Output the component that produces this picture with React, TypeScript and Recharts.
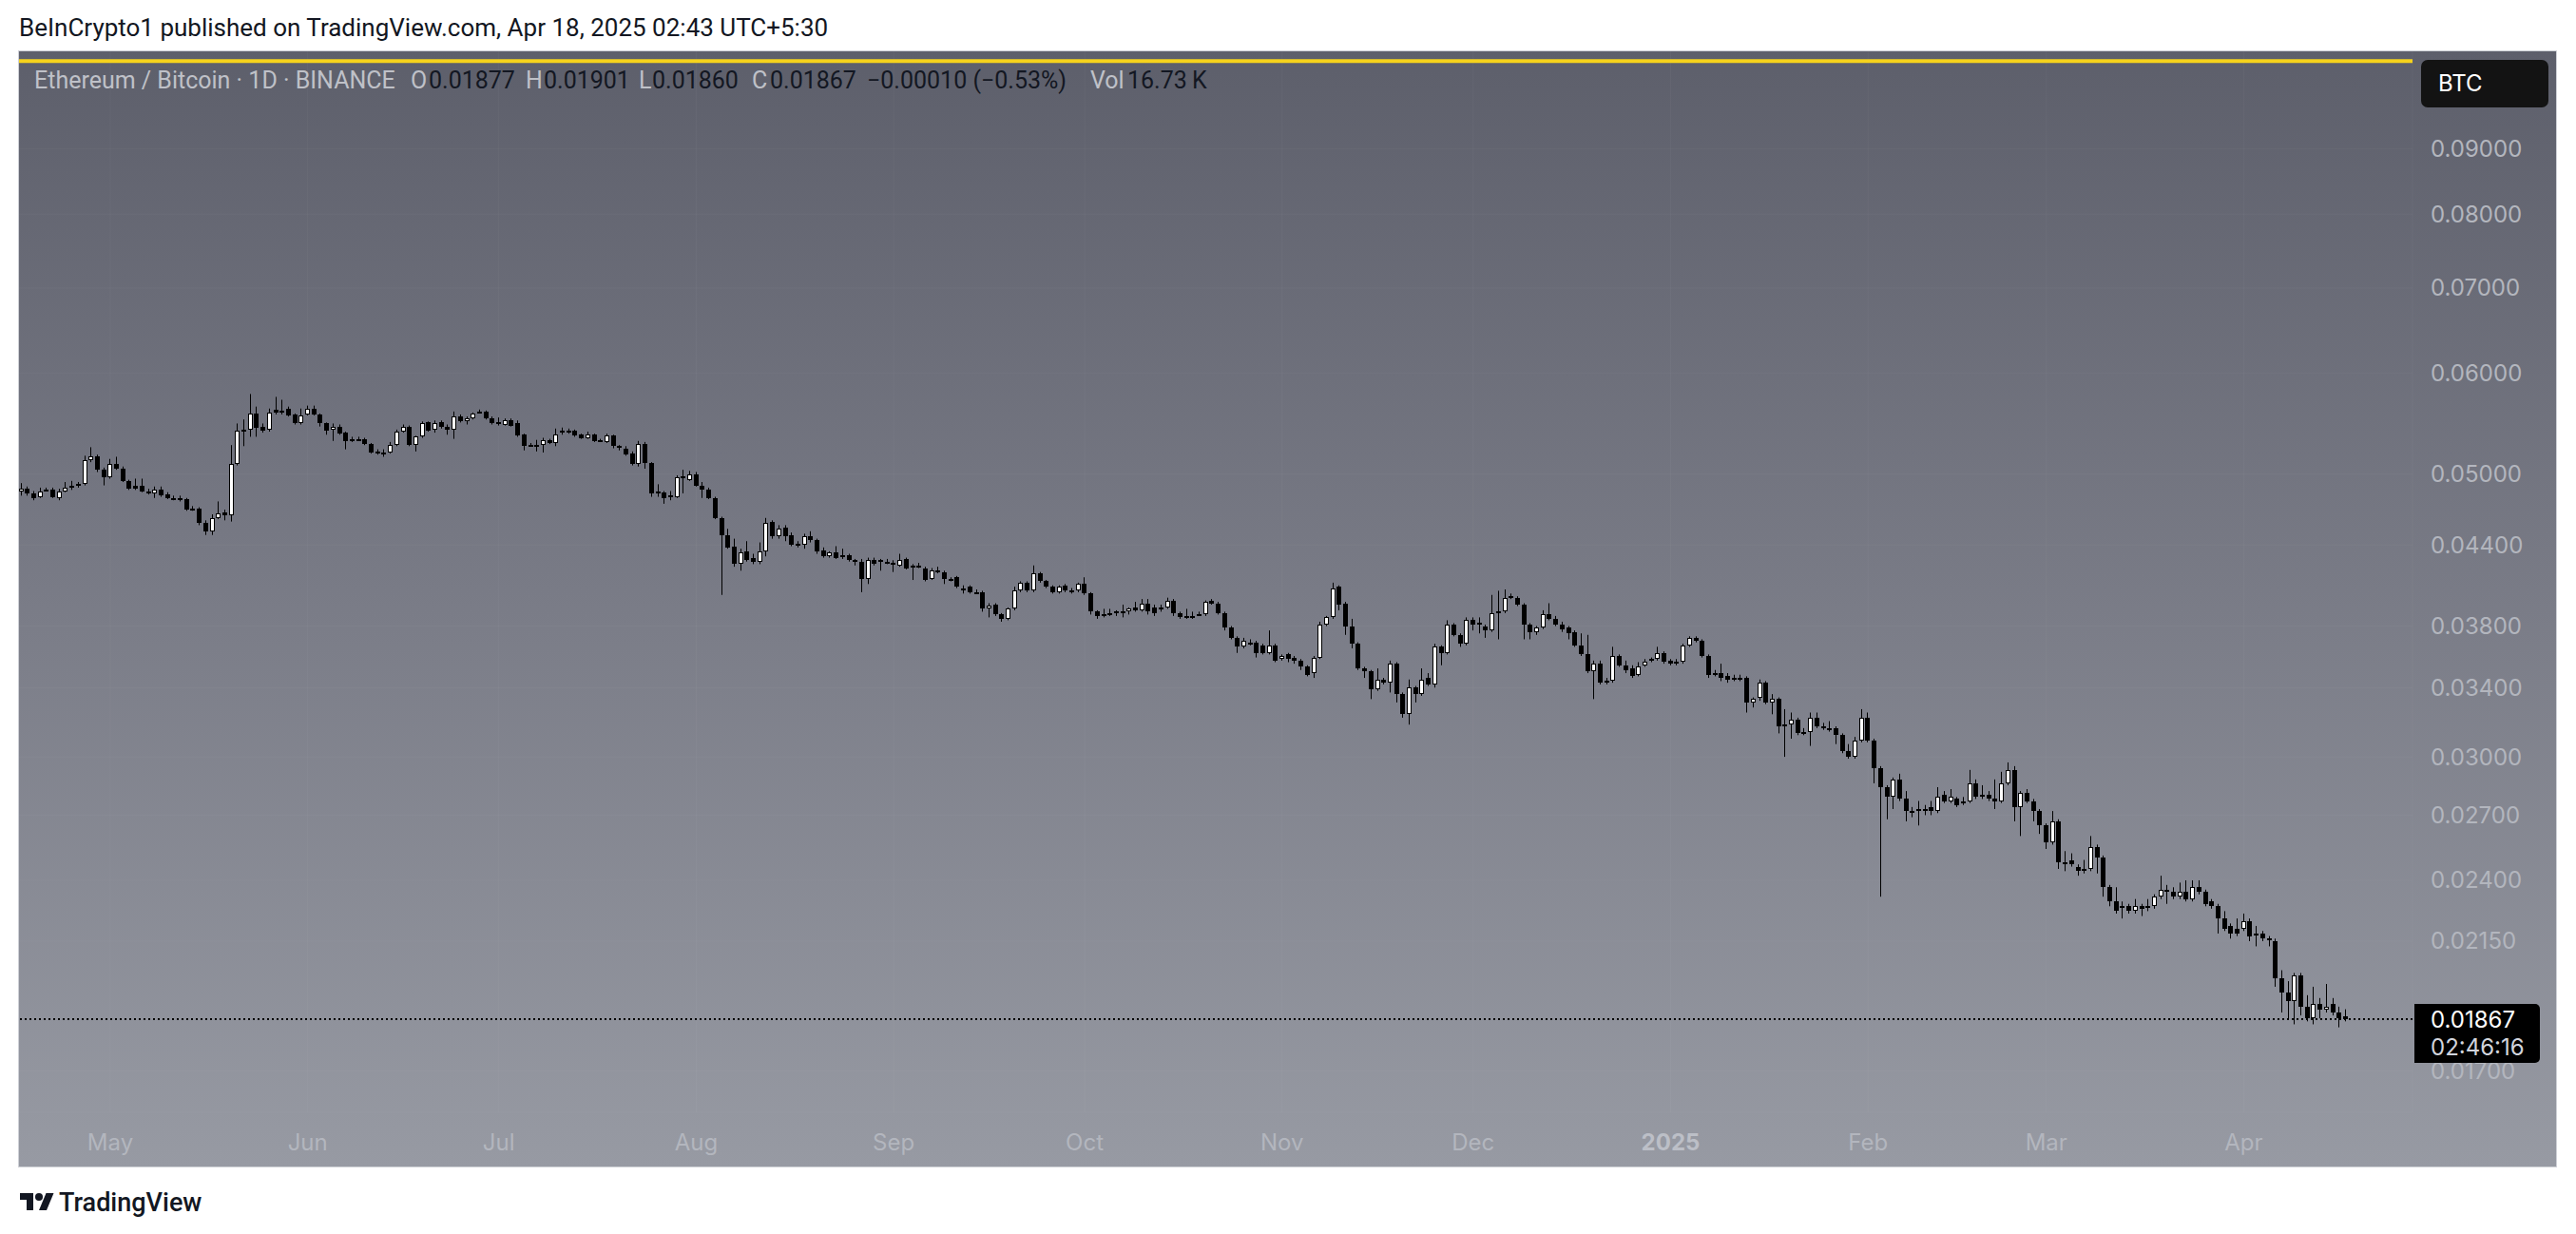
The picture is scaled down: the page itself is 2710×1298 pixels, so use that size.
import React from 'react';
import { Bar, CartesianGrid, ComposedChart, ReferenceLine, XAxis, YAxis } from 'recharts';

// ETH/BTC daily candles, Apr 17 2024 -> Apr 17 2025 (index 0 = Apr 17 2024)
// prices are in units of 0.00001 BTC
const opens = [
  4850, 4870, 4830, 4800, 4850, 4860, 4790, 4850, 4880, 4900,
  4910, 5130, 5160, 5040, 4970, 5090, 5050, 4940, 4900, 4900,
  4850, 4830, 4860, 4820, 4790, 4790, 4780, 4690, 4700, 4580,
  4510, 4620, 4670, 4640, 5090, 5410, 5420, 5580, 5450, 5420,
  5620, 5590, 5630, 5570, 5480, 5570, 5630, 5570, 5480, 5420,
  5450, 5390, 5320, 5330, 5330, 5280, 5210, 5200, 5200, 5270,
  5400, 5450, 5270, 5350, 5490, 5420, 5490, 5450, 5420, 5550,
  5500, 5530, 5590, 5600, 5530, 5490, 5470, 5510, 5480, 5370,
  5270, 5270, 5270, 5320, 5290, 5410, 5410, 5410, 5370, 5340,
  5370, 5310, 5300, 5360, 5260, 5240, 5190, 5090, 5280, 5100,
  4850, 4840, 4800, 4800, 4970, 4950, 5000, 4900, 4860, 4790,
  4620, 4480, 4390, 4250, 4350, 4300, 4270, 4350, 4590, 4470,
  4540, 4480, 4410, 4400, 4470, 4440, 4360, 4310, 4340, 4320,
  4320, 4280, 4270, 4140, 4280, 4280, 4270, 4260, 4240, 4290,
  4240, 4240, 4220, 4140, 4200, 4190, 4140, 4150, 4070, 4080,
  4040, 4040, 3920, 3950, 3880, 3850, 3920, 4050, 4110, 4050,
  4180, 4120, 4080, 4040, 4090, 4050, 4050, 4100, 4030, 3900,
  3880, 3890, 3890, 3900, 3900, 3930, 3910, 3960, 3930, 3930,
  3930, 3980, 3890, 3870, 3870, 3880, 3880, 3980, 3960, 3890,
  3790, 3720, 3660, 3690, 3690, 3670, 3620, 3670, 3580, 3610,
  3590, 3570, 3530, 3490, 3590, 3810, 3860, 4080, 3960, 3800,
  3680, 3520, 3500, 3390, 3450, 3430, 3550, 3360, 3240, 3400,
  3360, 3460, 3420, 3660, 3620, 3810, 3740, 3680, 3840, 3820,
  3800, 3770, 3900, 3900, 4010, 4000, 3950, 3810, 3760, 3790,
  3880, 3850, 3810, 3790, 3760, 3670, 3610, 3500, 3550, 3440,
  3440, 3600, 3540, 3520, 3480, 3540, 3580, 3580, 3620, 3570,
  3560, 3560, 3670, 3720, 3700, 3600, 3490, 3490, 3470, 3450,
  3460, 3460, 3310, 3340, 3430, 3310, 3330, 3180, 3180, 3210,
  3140, 3140, 3220, 3170, 3160, 3160, 3120, 3030, 3000, 3090,
  3220, 3090, 2940, 2840, 2790, 2880, 2780, 2720, 2730, 2730,
  2740, 2720, 2800, 2770, 2780, 2770, 2770, 2860, 2800, 2800,
  2780, 2770, 2860, 2930, 2740, 2810, 2770, 2720, 2650, 2570,
  2670, 2480, 2490, 2460, 2440, 2450, 2550, 2500, 2370, 2310,
  2290, 2290, 2270, 2290, 2290, 2290, 2330, 2360, 2350, 2330,
  2350, 2320, 2370, 2350, 2310, 2290, 2240, 2210, 2200, 2200,
  2230, 2180, 2180, 2160, 2150, 2010, 1960, 1930, 2020, 1910,
  1870, 1920, 1900, 1920, 1890, 1877,
];

const highs = [
  4920, 4890, 4850, 4880, 4880, 4880, 4870, 4930, 4940, 4930,
  5170, 5250, 5180, 5060, 5140, 5160, 5070, 4950, 4960, 4960,
  4870, 4890, 4890, 4840, 4810, 4810, 4790, 4720, 4710, 4600,
  4650, 4760, 4690, 5270, 5480, 5520, 5780, 5650, 5480, 5630,
  5750, 5720, 5650, 5580, 5630, 5660, 5660, 5580, 5490, 5480,
  5470, 5400, 5350, 5350, 5340, 5290, 5230, 5230, 5300, 5420,
  5470, 5460, 5360, 5500, 5500, 5510, 5510, 5470, 5600, 5570,
  5550, 5590, 5620, 5610, 5550, 5540, 5530, 5530, 5510, 5380,
  5290, 5320, 5340, 5330, 5430, 5440, 5430, 5420, 5380, 5400,
  5380, 5330, 5380, 5370, 5270, 5260, 5210, 5310, 5300, 5110,
  4910, 4850, 4850, 4990, 5040, 5030, 5020, 4930, 4880, 4800,
  4630, 4530, 4450, 4370, 4430, 4330, 4420, 4620, 4600, 4560,
  4560, 4500, 4430, 4490, 4510, 4450, 4380, 4350, 4390, 4370,
  4330, 4290, 4290, 4300, 4300, 4290, 4290, 4280, 4330, 4300,
  4250, 4260, 4230, 4220, 4230, 4200, 4150, 4160, 4090, 4090,
  4060, 4050, 3960, 3960, 3890, 3930, 4080, 4120, 4120, 4240,
  4190, 4130, 4090, 4090, 4100, 4070, 4110, 4150, 4040, 3910,
  3920, 3920, 3910, 3950, 3930, 3970, 3990, 3990, 3950, 3950,
  4000, 3990, 3900, 3920, 3900, 3900, 3980, 3990, 3970, 3900,
  3800, 3730, 3720, 3710, 3700, 3680, 3770, 3680, 3610, 3620,
  3600, 3580, 3540, 3600, 3830, 3870, 4110, 4090, 3970, 3850,
  3690, 3530, 3510, 3520, 3460, 3570, 3560, 3370, 3450, 3410,
  3520, 3490, 3680, 3670, 3840, 3820, 3750, 3860, 3860, 3860,
  3810, 4020, 4050, 4060, 4030, 4010, 3960, 3820, 3800, 3910,
  3960, 3870, 3830, 3800, 3770, 3750, 3740, 3570, 3570, 3460,
  3660, 3610, 3570, 3540, 3560, 3580, 3590, 3660, 3630, 3580,
  3580, 3680, 3730, 3730, 3710, 3610, 3510, 3550, 3490, 3480,
  3480, 3470, 3340, 3450, 3440, 3360, 3340, 3270, 3250, 3220,
  3160, 3250, 3250, 3190, 3200, 3170, 3130, 3070, 3110, 3270,
  3250, 3100, 2950, 2850, 2890, 2910, 2820, 2740, 2770, 2750,
  2770, 2840, 2820, 2830, 2790, 2790, 2930, 2880, 2850, 2820,
  2880, 2920, 2970, 2950, 2820, 2830, 2780, 2730, 2660, 2720,
  2680, 2530, 2520, 2470, 2490, 2600, 2560, 2510, 2380, 2370,
  2310, 2300, 2320, 2300, 2320, 2340, 2420, 2380, 2370, 2390,
  2400, 2400, 2400, 2360, 2320, 2300, 2270, 2220, 2240, 2260,
  2240, 2210, 2190, 2170, 2160, 2040, 2000, 2030, 2030, 1950,
  1980, 1940, 1990, 1940, 1910, 1901,
];

const lows = [
  4810, 4810, 4770, 4790, 4850, 4790, 4770, 4840, 4860, 4880,
  4900, 5110, 5020, 4900, 4960, 5040, 4930, 4860, 4860, 4840,
  4820, 4790, 4800, 4780, 4770, 4760, 4680, 4680, 4560, 4480,
  4480, 4610, 4600, 4590, 5080, 5260, 5350, 5350, 5390, 5400,
  5570, 5570, 5550, 5470, 5470, 5560, 5560, 5450, 5370, 5310,
  5370, 5230, 5300, 5310, 5270, 5190, 5180, 5160, 5190, 5260,
  5390, 5260, 5210, 5340, 5400, 5390, 5430, 5370, 5330, 5490,
  5470, 5520, 5580, 5520, 5470, 5460, 5460, 5450, 5350, 5220,
  5260, 5210, 5200, 5280, 5260, 5370, 5380, 5350, 5330, 5330,
  5300, 5300, 5290, 5240, 5220, 5170, 5080, 5070, 5050, 4800,
  4800, 4740, 4770, 4790, 4830, 4940, 4890, 4790, 4780, 4610,
  4020, 4370, 4230, 4200, 4270, 4250, 4250, 4310, 4450, 4450,
  4430, 4390, 4380, 4370, 4420, 4330, 4300, 4300, 4290, 4290,
  4270, 4240, 4040, 4100, 4240, 4200, 4250, 4190, 4230, 4210,
  4130, 4220, 4120, 4130, 4180, 4100, 4120, 4070, 4030, 4030,
  4030, 3900, 3860, 3870, 3830, 3840, 3910, 4040, 4040, 4040,
  4110, 4070, 4030, 4030, 4040, 4030, 4040, 4020, 3880, 3850,
  3860, 3870, 3870, 3860, 3880, 3900, 3900, 3880, 3870, 3900,
  3920, 3870, 3850, 3850, 3850, 3870, 3870, 3950, 3880, 3770,
  3710, 3620, 3650, 3670, 3590, 3610, 3610, 3560, 3570, 3560,
  3550, 3510, 3470, 3460, 3580, 3800, 3850, 3910, 3740, 3650,
  3510, 3460, 3330, 3380, 3420, 3370, 3310, 3220, 3180, 3310,
  3350, 3410, 3400, 3540, 3610, 3730, 3660, 3670, 3770, 3750,
  3720, 3760, 3710, 3890, 3990, 3940, 3710, 3710, 3740, 3780,
  3840, 3800, 3760, 3710, 3660, 3600, 3490, 3330, 3420, 3420,
  3430, 3530, 3490, 3460, 3470, 3530, 3560, 3570, 3550, 3540,
  3540, 3550, 3660, 3690, 3590, 3460, 3470, 3440, 3430, 3440,
  3440, 3250, 3280, 3320, 3300, 3240, 3130, 3000, 3100, 3120,
  3120, 3060, 3160, 3150, 3140, 3070, 3020, 2990, 2990, 3080,
  3080, 2860, 2330, 2680, 2730, 2770, 2670, 2690, 2650, 2700,
  2700, 2710, 2760, 2760, 2740, 2750, 2760, 2780, 2780, 2770,
  2730, 2760, 2850, 2670, 2600, 2760, 2670, 2610, 2540, 2560,
  2450, 2440, 2460, 2420, 2430, 2440, 2430, 2330, 2290, 2260,
  2240, 2260, 2260, 2250, 2270, 2280, 2320, 2300, 2320, 2320,
  2310, 2310, 2340, 2290, 2280, 2180, 2190, 2160, 2170, 2190,
  2150, 2130, 2150, 2130, 1980, 1890, 1870, 1850, 1880, 1860,
  1850, 1870, 1890, 1880, 1840, 1860,
];

const closes = [
  4870, 4830, 4790, 4850, 4860, 4800, 4850, 4880, 4900, 4910,
  5130, 5160, 5040, 4970, 5090, 5050, 4940, 4870, 4870, 4850,
  4830, 4860, 4810, 4790, 4790, 4770, 4690, 4700, 4580, 4510,
  4620, 4660, 4640, 5090, 5410, 5420, 5580, 5440, 5410, 5590,
  5590, 5610, 5560, 5480, 5560, 5630, 5570, 5480, 5410, 5450,
  5380, 5310, 5330, 5330, 5280, 5200, 5200, 5200, 5270, 5400,
  5450, 5270, 5350, 5480, 5410, 5480, 5450, 5420, 5550, 5500,
  5530, 5580, 5600, 5530, 5480, 5490, 5510, 5460, 5360, 5260,
  5270, 5250, 5320, 5290, 5370, 5390, 5410, 5360, 5340, 5370,
  5310, 5320, 5360, 5260, 5260, 5180, 5090, 5280, 5100, 4830,
  4840, 4790, 4810, 4970, 4980, 5000, 4900, 4860, 4790, 4620,
  4480, 4380, 4250, 4340, 4280, 4270, 4350, 4580, 4470, 4530,
  4470, 4400, 4400, 4470, 4440, 4350, 4310, 4340, 4300, 4320,
  4280, 4280, 4140, 4280, 4250, 4280, 4270, 4260, 4280, 4220,
  4240, 4240, 4130, 4200, 4200, 4140, 4140, 4080, 4070, 4040,
  4040, 3920, 3940, 3880, 3850, 3920, 4050, 4110, 4050, 4180,
  4120, 4080, 4040, 4080, 4050, 4050, 4100, 4030, 3900, 3870,
  3880, 3890, 3900, 3900, 3920, 3910, 3960, 3900, 3890, 3930,
  3980, 3890, 3860, 3870, 3870, 3880, 3970, 3960, 3890, 3790,
  3720, 3660, 3700, 3690, 3620, 3620, 3670, 3570, 3600, 3580,
  3570, 3530, 3480, 3590, 3810, 3860, 4070, 3950, 3800, 3680,
  3520, 3500, 3390, 3450, 3430, 3550, 3360, 3240, 3400, 3360,
  3450, 3420, 3660, 3620, 3810, 3740, 3680, 3840, 3810, 3820,
  3770, 3890, 3900, 4000, 4010, 3950, 3810, 3760, 3790, 3880,
  3850, 3810, 3780, 3750, 3670, 3610, 3500, 3550, 3430, 3440,
  3600, 3540, 3510, 3470, 3530, 3560, 3580, 3620, 3560, 3550,
  3560, 3670, 3720, 3700, 3600, 3480, 3490, 3460, 3450, 3460,
  3460, 3310, 3330, 3430, 3310, 3330, 3170, 3180, 3210, 3130,
  3140, 3220, 3170, 3170, 3160, 3120, 3030, 3000, 3090, 3220,
  3090, 2940, 2840, 2790, 2880, 2780, 2720, 2720, 2730, 2730,
  2720, 2790, 2770, 2790, 2750, 2770, 2860, 2790, 2800, 2780,
  2770, 2860, 2930, 2740, 2810, 2770, 2720, 2650, 2570, 2670,
  2480, 2480, 2470, 2440, 2450, 2550, 2500, 2370, 2310, 2270,
  2290, 2270, 2290, 2280, 2290, 2330, 2360, 2350, 2330, 2350,
  2320, 2370, 2350, 2300, 2290, 2240, 2200, 2180, 2180, 2230,
  2170, 2180, 2160, 2160, 2010, 1960, 1930, 2020, 1910, 1870,
  1920, 1900, 1910, 1890, 1870, 1867,
];

const UNIT = 1e-5;

// first candle of each month (index into the candle list) and its label
const monthTickIdx = [14, 45, 75, 106, 137, 167, 198, 228, 259, 290, 318, 349];
const monthLabels = ['May', 'Jun', 'Jul', 'Aug', 'Sep', 'Oct', 'Nov', 'Dec', '2025', 'Feb', 'Mar', 'Apr'];

const priceTicks = [0.09, 0.08, 0.07, 0.06, 0.05, 0.044, 0.038, 0.034, 0.03, 0.027, 0.024, 0.0215, 0.017];
const lastPrice = 0.01867;
const countdown = '02:46:16';
const drawnLevel = 0.1055; // yellow horizontal line at the top

const candles = closes.map((c, i) => ({
  i,
  open: opens[i] * UNIT,
  high: highs[i] * UNIT,
  low: lows[i] * UNIT,
  close: c * UNIT,
  range: [lows[i] * UNIT, highs[i] * UNIT],
}));

const CHART_W = 2669;
const CHART_H = 1173;
const PRICE_AXIS_W = 151;
const TIME_AXIS_H = 57;
const labelColor = '#b3b6be';

function Candle(props: any) {
  const { x, y, width, height, payload } = props;
  if (!payload || !Number.isFinite(y) || !Number.isFinite(height)) return null;
  const cx = Math.floor(x + width / 2);
  const lh = Math.log(payload.high);
  const ll = Math.log(payload.low);
  const span = lh - ll || 1;
  const toY = (v: number) => y + (height * (lh - Math.log(v))) / span;
  const yo = toY(payload.open);
  const yc = toY(payload.close);
  const up = payload.close >= payload.open;
  const top = Math.round(Math.min(yo, yc));
  let bot = Math.round(Math.max(yo, yc));
  if (bot - top < 2) bot = top + 2;
  const h = bot - top;
  return (
    <g>
      <rect x={cx} y={y} width={1} height={height} fill="#000" />
      <rect x={cx - 2} y={top} width={5} height={h} fill="#000" />
      {up && h > 2 && <rect x={cx - 1} y={top + 1} width={3} height={h - 2} fill="#fff" />}
    </g>
  );
}

function MonthTick(props: any) {
  const { x, payload } = props;
  const label = monthLabels[monthTickIdx.indexOf(payload.value)];
  const isYear = label === '2025';
  return (
    <text
      x={x}
      y={1147}
      textAnchor="middle"
      dominantBaseline="central"
      fontSize={24}
      fontFamily="Inter"
      fontWeight={isYear ? 700 : 400}
      fill={isYear ? '#bcbfc7' : labelColor}
    >
      {label}
    </text>
  );
}

function PriceTick(props: any) {
  const { y, payload } = props;
  return (
    <text x={2537} y={y} dominantBaseline="central" fontSize={24} fontFamily="Inter" fill={labelColor}>
      {payload.value.toFixed(5)}
    </text>
  );
}

const legendGrey = '#bfc1c8';
const legendDark = '#131722';

function Legend() {
  const items: [string, number, string][] = [
    ['Ethereum / Bitcoin · 1D · BINANCE', 36, legendGrey],
    ['O', 432, legendGrey],
    ['0.01877', 451, legendDark],
    ['H', 553, legendGrey],
    ['0.01901', 572, legendDark],
    ['L', 672, legendGrey],
    ['0.01860', 686, legendDark],
    ['C', 791, legendGrey],
    ['0.01867', 810, legendDark],
    ['\u22120.00010 (\u22120.53%)', 912, legendDark],
    ['Vol', 1147, legendGrey],
    ['16.73\u2009K', 1186, legendDark],
  ];
  return (
    <>
      {items.map(([t, left, color]) => (
        <div
          key={t + left}
          style={{
            position: 'absolute',
            left,
            top: 70,
            fontFamily: 'Roboto',
            fontSize: 25,
            lineHeight: '30px',
            color,
            whiteSpace: 'nowrap',
          }}
        >
          {t}
        </div>
      ))}
    </>
  );
}

export default function App() {
  return (
    <div style={{ position: 'absolute', left: 0, top: 0, width: 2710, height: 1298, background: '#fff', overflow: 'hidden' }}>
      <div
        style={{
          position: 'absolute',
          left: 20,
          top: 13,
          fontFamily: 'Roboto',
          fontSize: 26,
          lineHeight: '32px',
          color: '#131722',
          whiteSpace: 'nowrap',
        }}
      >
        BeInCrypto1 published on TradingView.com, Apr 18, 2025 02:43 UTC+5:30
      </div>

      <div
        style={{
          position: 'absolute',
          left: 20,
          top: 54,
          width: CHART_W,
          height: CHART_H,
          background: 'linear-gradient(180deg, #5d5f6b 0%, #7a7c87 50%, #979aa3 100%)',
          outline: '1px solid #cfd1d7',
        }}
      >
        <ComposedChart width={CHART_W} height={CHART_H} data={candles} margin={{ top: 0, right: 0, bottom: 0, left: 0 }}>
          <CartesianGrid stroke="rgba(255,255,255,0.035)" />
          <XAxis
            dataKey="i"
            type="number"
            domain={[-0.33, 375.5]}
            allowDataOverflow
            ticks={monthTickIdx}
            interval={0}
            tick={<MonthTick />}
            tickLine={false}
            axisLine={false}
            height={TIME_AXIS_H}
          />
          <YAxis
            orientation="right"
            scale="log"
            domain={[0.01578, 0.10737]}
            allowDataOverflow
            ticks={priceTicks}
            interval={0}
            tick={<PriceTick />}
            tickLine={false}
            axisLine={false}
            width={PRICE_AXIS_W}
          />
          <ReferenceLine y={drawnLevel} stroke="#f6d31c" strokeWidth={4} />
          <Bar dataKey="range" shape={(p: any) => <Candle {...p} />} isAnimationActive={false} />
          <ReferenceLine y={lastPrice} stroke="#000" strokeWidth={2} strokeDasharray="2 3" />
        </ComposedChart>
      </div>

      <Legend />

      <div
        style={{
          position: 'absolute',
          left: 2547,
          top: 63,
          width: 134,
          height: 50,
          background: '#131313',
          borderRadius: 7,
          color: '#fff',
          fontFamily: 'Inter',
          fontSize: 24,
          lineHeight: '50px',
          paddingLeft: 18,
          boxSizing: 'border-box',
        }}
      >
        BTC
      </div>

      <div
        style={{
          position: 'absolute',
          left: 2540,
          top: 1056,
          width: 132,
          height: 62,
          background: '#000',
          borderRadius: '0 5px 5px 0',
          fontFamily: 'Inter',
          fontSize: 24,
          paddingLeft: 17,
          boxSizing: 'border-box',
        }}
      >
        <div style={{ color: '#fff', lineHeight: '30px', marginTop: 2 }}>{lastPrice.toFixed(5)}</div>
        <div style={{ color: '#d1d4dc', lineHeight: '28px' }}>{countdown}</div>
      </div>

      <div style={{ position: 'absolute', left: 20, top: 1249, display: 'flex', alignItems: 'center' }}>
        <svg width={38} height={28} viewBox="0 0 36 28">
          <path d="M14 22H7V11H0V4h14v18z" fill="#131722" />
          <circle cx={20} cy={8} r={4} fill="#131722" />
          <path d="M28 22h-8l7.5-18h8L28 22z" fill="#131722" />
        </svg>
        <span style={{ fontFamily: 'Roboto', fontSize: 27, fontWeight: 500, color: '#131722', marginLeft: 4 }}>
          TradingView
        </span>
      </div>
    </div>
  );
}
